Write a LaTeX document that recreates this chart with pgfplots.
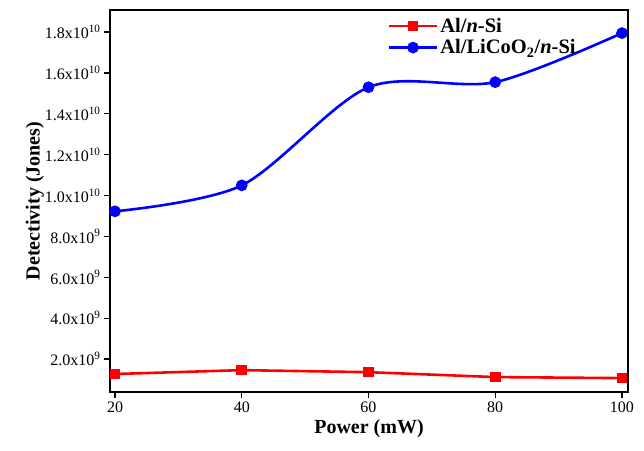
\documentclass[border=0pt]{standalone}
\usepackage{fontspec}
\setmainfont{Liberation Serif}
\usepackage{pgfplots}
\pgfplotsset{compat=1.18}
\begin{document}
\begin{tikzpicture}[x=1pt,y=1pt]
\path[use as bounding box] (0,0) rectangle (644,450);
\begin{axis}[
    at={(110pt,58pt)}, anchor=south west,
    scale only axis, width=518pt, height=382pt,
    xmin=19.21, xmax=100.95,
    ymin=0.39e9, ymax=1.908e10,
    axis line style={line width=1.4pt},
    tick style={line width=1.2pt, black},
    major tick length=6pt,
    tick align=outside,
    xtick pos=left, ytick pos=left,
    xtick={20,40,60,80,100},
    ytick={2e9,4e9,6e9,8e9,1e10,1.2e10,1.4e10,1.6e10,1.8e10},
    yticklabels={2.0x10\textsuperscript{9},4.0x10\textsuperscript{9},6.0x10\textsuperscript{9},8.0x10\textsuperscript{9},
        1.0x10\textsuperscript{10},1.2x10\textsuperscript{10},1.4x10\textsuperscript{10},1.6x10\textsuperscript{10},1.8x10\textsuperscript{10}},
    scaled y ticks=false,
    xticklabel style={font=\fontsize{16}{16}\selectfont, /pgf/number format/assume math mode=true},
    yticklabel style={font=\fontsize{16}{16}\selectfont},
    xlabel={\textbf{Power (mW)}},
    ylabel={\textbf{Detectivity (Jones)}},
    xlabel style={font=\fontsize{20}{20}\selectfont, yshift=0pt},
    ylabel style={font=\fontsize{20}{20}\selectfont},
    ylabel shift=-6pt,
    legend style={
        at={(0.53,0.99)}, anchor=north west,
        draw=none, fill=none,
        font=\fontsize{20.5}{21}\selectfont\bfseries,
        row sep=2pt,
    },
    legend cell align=left,
    legend image code/.code={
        \draw[mark repeat=2,mark phase=2,#1] plot coordinates {(0pt,0pt) (24pt,0pt) (48pt,0pt)};
    },
]
\addplot[red, line width=2.6pt, mark=square*, mark size=4pt, mark options={solid}]
    coordinates {(20,1.27e9) (40,1.46e9) (60,1.36e9) (80,1.12e9) (100,1.07e9)};
\addlegendentry{Al/\textit{n}-Si}

\addplot[blue, line width=2.6pt, smooth, mark=*, mark size=4.5pt, mark options={solid}]
    coordinates {(20,9.23e9) (40,1.05e10) (60,1.53e10) (80,1.555e10) (100,1.795e10)};
\addlegendentry{Al/LiCoO\textsubscript{2}/\textit{n}-Si}
\end{axis}
\end{tikzpicture}
\end{document}
